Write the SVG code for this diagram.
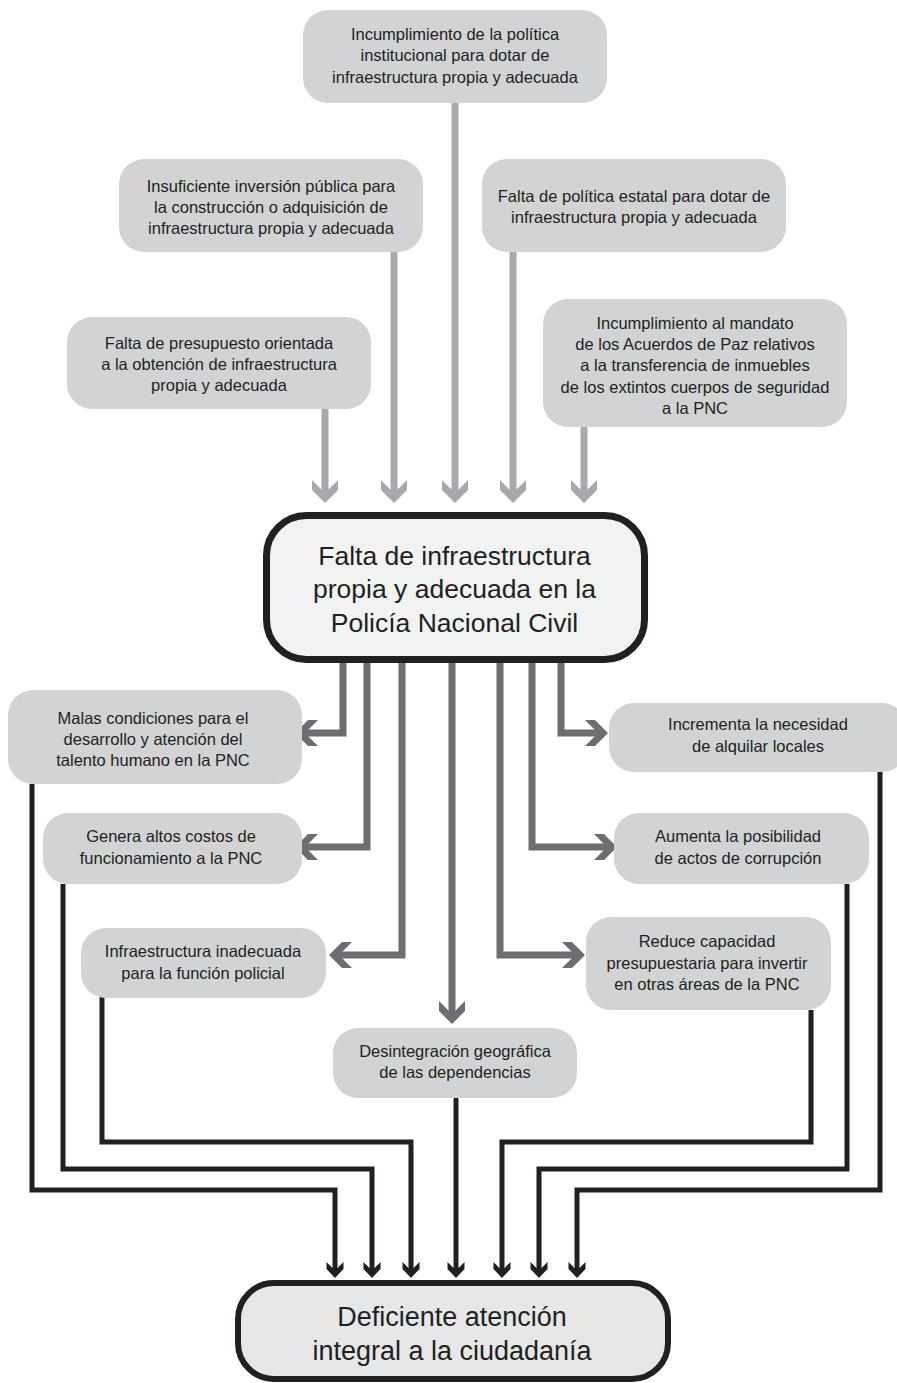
<svg xmlns="http://www.w3.org/2000/svg" xmlns:xlink="http://www.w3.org/1999/xlink" width="897" height="1383" viewBox="0 0 897 1383">
<style>
text{font-family:"Liberation Sans",Arial,sans-serif;fill:#231f20;text-anchor:middle}
.s{font-size:16.5px}
.b{font-size:26.5px}
.box{fill:#d1d3d4}
.cause{fill:none;stroke:#a7a9ac;stroke-width:7}
.eff{fill:none;stroke:#6d6e71;stroke-width:7;stroke-linejoin:miter}
.blk{fill:none;stroke:#231f20;stroke-width:5;stroke-linejoin:miter}
</style>
<defs>
<path id="chev" d="M0 0 L-13 -13 L-13 -23 L0 -10 L13 -23 L13 -13 Z"/>
<path id="chevS" d="M0 0 L-8.5 -9 L-8.5 -16 L0 -7.5 L8.5 -16 L8.5 -9 Z"/>
</defs>
<rect width="897" height="1383" fill="#ffffff"/>

<g id="connectors">
  <g class="cause">
    <path d="M325 409 V494"/>
    <path d="M394 252 V494"/>
    <path d="M455 103 V494"/>
    <path d="M513 252 V494"/>
    <path d="M584 427 V494"/>
  </g>
  <g fill="#a7a9ac">
    <use href="#chev" x="325" y="503"/>
    <use href="#chev" x="394" y="503"/>
    <use href="#chev" x="455" y="503"/>
    <use href="#chev" x="513" y="503"/>
    <use href="#chev" x="584" y="503"/>
  </g>
  <g class="eff">
    <path d="M343 663 V733 H304"/>
    <path d="M367 663 V847 H304"/>
    <path d="M402 663 V955 H338"/>
    <path d="M452 663 V1014"/>
    <path d="M500 663 V955 H576"/>
    <path d="M532 663 V847 H608"/>
    <path d="M561 663 V733 H599"/>
  </g>
  <g fill="#6d6e71">
    <use href="#chev" transform="translate(295 733) rotate(90)"/>
    <use href="#chev" transform="translate(295 847) rotate(90)"/>
    <use href="#chev" transform="translate(329 955) rotate(90)"/>
    <use href="#chev" x="452" y="1024"/>
    <use href="#chev" transform="translate(585 955) rotate(-90)"/>
    <use href="#chev" transform="translate(617 847) rotate(-90)"/>
    <use href="#chev" transform="translate(608 733) rotate(-90)"/>
  </g>
  <g class="blk">
    <path d="M32 784 V1190 H335 V1271"/>
    <path d="M63 884 V1169 H372 V1271"/>
    <path d="M102 997 V1142 H411 V1271"/>
    <path d="M456 1098 V1271"/>
    <path d="M811 1010 V1142 H502 V1271"/>
    <path d="M847 884 V1169 H539 V1271"/>
    <path d="M880 772 V1190 H577 V1271"/>
  </g>
  <g fill="#231f20">
    <use href="#chevS" x="335" y="1278"/>
    <use href="#chevS" x="372" y="1278"/>
    <use href="#chevS" x="411" y="1278"/>
    <use href="#chevS" x="456" y="1278"/>
    <use href="#chevS" x="502" y="1278"/>
    <use href="#chevS" x="539" y="1278"/>
    <use href="#chevS" x="577" y="1278"/>
  </g>
</g>

<g id="cause-institucional">
  <rect class="box" x="303" y="10" width="304" height="93" rx="25"/>
  <text class="s" x="455" y="39.5">Incumplimiento de la política</text>
  <text class="s" x="455" y="61">institucional para dotar de</text>
  <text class="s" x="455" y="82.5">infraestructura propia y adecuada</text>
</g>
<g id="cause-inversion">
  <rect class="box" x="119" y="159" width="304" height="93" rx="25"/>
  <text class="s" x="271" y="191.5">Insuficiente inversión pública para</text>
  <text class="s" x="271" y="213">la construcción o adquisición de</text>
  <text class="s" x="271" y="234">infraestructura propia y adecuada</text>
</g>
<g id="cause-estatal">
  <rect class="box" x="482" y="159" width="304" height="93" rx="25"/>
  <text class="s" x="634" y="201.5">Falta de política estatal para dotar de</text>
  <text class="s" x="634" y="223">infraestructura propia y adecuada</text>
</g>
<g id="cause-presupuesto">
  <rect class="box" x="67" y="317" width="304" height="92" rx="25"/>
  <text class="s" x="219" y="348.5">Falta de presupuesto orientada</text>
  <text class="s" x="219" y="370">a la obtención de infraestructura</text>
  <text class="s" x="219" y="391">propia y adecuada</text>
</g>
<g id="cause-acuerdos">
  <rect class="box" x="543" y="299" width="304" height="128" rx="25"/>
  <text class="s" x="695" y="328.5">Incumplimiento al mandato</text>
  <text class="s" x="695" y="349.5">de los Acuerdos de Paz relativos</text>
  <text class="s" x="695" y="371">a la transferencia de inmuebles</text>
  <text class="s" x="695" y="392.5">de los extintos cuerpos de seguridad</text>
  <text class="s" x="695" y="413.5">a la PNC</text>
</g>

<g id="problema-central">
  <rect x="266.5" y="515.5" width="378" height="144" rx="40" fill="#f1f2f2" stroke="#231f20" stroke-width="7"/>
  <text class="b" x="454.5" y="565">Falta de infraestructura</text>
  <text class="b" x="454.5" y="598">propia y adecuada en la</text>
  <text class="b" x="454.5" y="631.5">Policía Nacional Civil</text>
</g>

<g id="efecto-talento">
  <rect class="box" x="8" y="690" width="294" height="94" rx="25"/>
  <text class="s" x="153" y="723.5">Malas condiciones para el</text>
  <text class="s" x="153" y="744.5">desarrollo y atención del</text>
  <text class="s" x="153" y="766">talento humano en la PNC</text>
</g>
<g id="efecto-costos">
  <rect class="box" x="43" y="813" width="259" height="71" rx="25"/>
  <text class="s" x="171" y="842">Genera altos costos de</text>
  <text class="s" x="171" y="863.5">funcionamiento a la PNC</text>
</g>
<g id="efecto-inadecuada">
  <rect class="box" x="81" y="928" width="245" height="70" rx="25"/>
  <text class="s" x="203" y="957">Infraestructura inadecuada</text>
  <text class="s" x="203" y="978.5">para la función policial</text>
</g>
<g id="efecto-desintegracion">
  <rect class="box" x="333" y="1028" width="244" height="70" rx="25"/>
  <text class="s" x="455" y="1057">Desintegración geográfica</text>
  <text class="s" x="455" y="1078">de las dependencias</text>
</g>
<g id="efecto-alquilar">
  <rect class="box" x="609" y="703" width="298" height="69" rx="25"/>
  <text class="s" x="758" y="730">Incrementa la necesidad</text>
  <text class="s" x="758" y="752">de alquilar locales</text>
</g>
<g id="efecto-corrupcion">
  <rect class="box" x="614" y="813" width="255" height="71" rx="25"/>
  <text class="s" x="738" y="842">Aumenta la posibilidad</text>
  <text class="s" x="738" y="863.5">de actos de corrupción</text>
</g>
<g id="efecto-presupuestaria">
  <rect class="box" x="586" y="917" width="245" height="93" rx="25"/>
  <text class="s" x="707" y="947">Reduce capacidad</text>
  <text class="s" x="707" y="968.5">presupuestaria para invertir</text>
  <text class="s" x="707" y="990">en otras áreas de la PNC</text>
</g>

<g id="efecto-final">
  <rect x="238" y="1283" width="430" height="96" rx="36" fill="#e6e7e8" stroke="#231f20" stroke-width="6"/>
  <text class="b" x="452" y="1325.5" style="font-size:27px">Deficiente atención</text>
  <text class="b" x="452" y="1360" style="font-size:27px">integral a la ciudadanía</text>
</g>
</svg>
